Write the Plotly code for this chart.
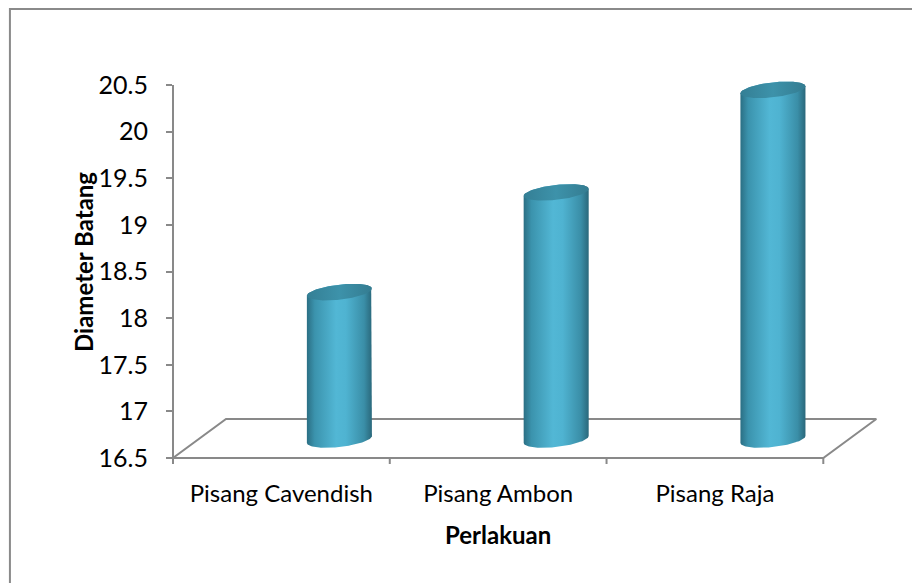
import numpy as np
import plotly.graph_objects as go

# ---- data ----
categories = ["Pisang Cavendish", "Pisang Ambon", "Pisang Raja"]
values = [18.08, 19.15, 20.25]
y_ticks = [16.5, 17, 17.5, 18, 18.5, 19, 19.5, 20, 20.5]
y_title = "Diameter Batang"
x_title = "Perlakuan"

# ---- geometry (pixel layout) ----
W, H = 912, 583
PX_PER_CAT = 216.67
PX_PER_UNIT = 93.25
Y_MIN_AX = 16.5
Y_MAX_AX = 20.5
X_RANGE = [-0.5, 2.78]
Y_RANGE = [16.5 - 6.0 / PX_PER_UNIT, 20.5 + 8.0 / PX_PER_UNIT]
ML = 173
MT = 85 - 8.0
plot_w = (X_RANGE[1] - X_RANGE[0]) * PX_PER_CAT
plot_h = (Y_RANGE[1] - Y_RANGE[0]) * PX_PER_UNIT
MR = W - ML - plot_w
MB = H - MT - plot_h

def px_to_paper_x(px):
    return (px - ML) / plot_w

def px_to_paper_y(py):
    return (MT + plot_h - py) / plot_h

# 3D depth offsets (in axis units)
floor_dx = 53 / PX_PER_CAT
floor_dy = 39 / PX_PER_UNIT
bar_dx = 58 / PX_PER_CAT
bar_dy = 18.5 / PX_PER_UNIT
cyl_a = 32.5 / PX_PER_CAT
cyl_b = 7.5 / PX_PER_UNIT
cyl_s = 3.5 / PX_PER_UNIT

axis_gray = "#898989"
fig = go.Figure()

n = len(categories)
x_left, x_right = -0.5, n - 0.5

# floor parallelogram
fig.add_trace(go.Scatter(
    x=[x_left, x_left + floor_dx, x_right + floor_dx, x_right, x_left],
    y=[Y_MIN_AX, Y_MIN_AX + floor_dy, Y_MIN_AX + floor_dy, Y_MIN_AX, Y_MIN_AX],
    mode="lines", line=dict(color=axis_gray, width=2), hoverinfo="skip", showlegend=False))

# category tick marks hanging from front edge
tx, ty = [], []
for k in range(n + 1):
    xv = x_left + k
    tx += [xv, xv, None]
    ty += [Y_MIN_AX, Y_RANGE[0], None]
fig.add_trace(go.Scatter(x=tx, y=ty, mode="lines", line=dict(color=axis_gray, width=2),
                         hoverinfo="skip", showlegend=False))

def ellipse(xc, yc, t):
    return xc + cyl_a * np.cos(t), yc + cyl_b * np.sin(t) + cyl_s * np.cos(t)

body_scale = [[0.0, "#2b6f84"], [0.12, "#3b93ad"], [0.45, "#52b7d5"], [0.6, "#4fb3d1"],
              [0.88, "#3a8ea7"], [1.0, "#2a687b"]]
top_scale = [[0.0, "#347f95"], [0.5, "#3d92aa"], [1.0, "#347c91"]]

for i, v in enumerate(values):
    xc = i + bar_dx
    yb = Y_MIN_AX + bar_dy
    yt = v + bar_dy
    t_front = np.linspace(np.pi, 2 * np.pi, 60)
    t_back = np.linspace(0, np.pi, 60)
    bx, by = ellipse(xc, yb, t_front)
    tx2, ty2 = ellipse(xc, yt, t_back)
    xs = np.concatenate([bx, tx2, bx[:1]])
    ys = np.concatenate([by, ty2, by[:1]])
    fig.add_trace(go.Scatter(x=xs, y=ys, mode="lines", fill="toself",
                             line=dict(width=0, color="rgba(0,0,0,0)"),
                             fillgradient=dict(type="horizontal", colorscale=body_scale),
                             hoverinfo="skip", showlegend=False))
    t_all = np.linspace(0, 2 * np.pi, 120)
    ex, ey = ellipse(xc, yt, t_all)
    fig.add_trace(go.Scatter(x=ex, y=ey, mode="lines", fill="toself",
                             line=dict(width=0, color="rgba(0,0,0,0)"),
                             fillgradient=dict(type="horizontal", colorscale=top_scale),
                             hoverinfo="skip", showlegend=False))

FONT = "Lato, Carlito, Calibri, sans-serif"

fig.update_layout(
    width=W, height=H,
    margin=dict(l=ML, r=MR, t=MT, b=MB, pad=0),
    paper_bgcolor="white", plot_bgcolor="white",
    font=dict(family=FONT, color="#000000"),
    xaxis=dict(range=X_RANGE, showgrid=False, zeroline=False, showline=False,
               tickmode="array", tickvals=list(range(n)), ticktext=categories,
               ticks="", tickfont=dict(size=24, family=FONT, color="#000000"),
               ticklabelstandoff=13, fixedrange=True),
    yaxis=dict(range=Y_RANGE, showgrid=False, zeroline=False, showline=False,
               tickmode="array", tickvals=y_ticks, ticktext=[f"{t:g}" for t in y_ticks],
               ticks="outside", ticklen=6, tickwidth=2, tickcolor=axis_gray,
               tickfont=dict(size=25, family=FONT, color="#000000"),
               ticklabelstandoff=13, fixedrange=True),
    shapes=[
        dict(type="line", xref="paper", yref="y", x0=0, x1=0,
             y0=Y_RANGE[0], y1=Y_MAX_AX, line=dict(color=axis_gray, width=2), layer="above"),
        dict(type="rect", xref="paper", yref="paper",
             x0=px_to_paper_x(10), x1=px_to_paper_x(W + 10),
             y0=px_to_paper_y(H + 10), y1=px_to_paper_y(9),
             line=dict(color="#8a8a8a", width=2), fillcolor="rgba(0,0,0,0)", layer="below")],
    annotations=[
        dict(text=f"<b>{y_title}</b>", xref="paper", yref="paper",
             x=px_to_paper_x(83), y=px_to_paper_y(262), textangle=-90, showarrow=False,
             xanchor="center", yanchor="middle", font=dict(size=24, family=FONT, color="#000000")),
        dict(text=f"<b>{x_title}</b>", xref="paper", yref="paper",
             x=px_to_paper_x(498), y=px_to_paper_y(534), showarrow=False,
             xanchor="center", yanchor="middle", font=dict(size=24, family=FONT, color="#000000")),
    ],
)

fig.write_html("out.html")
